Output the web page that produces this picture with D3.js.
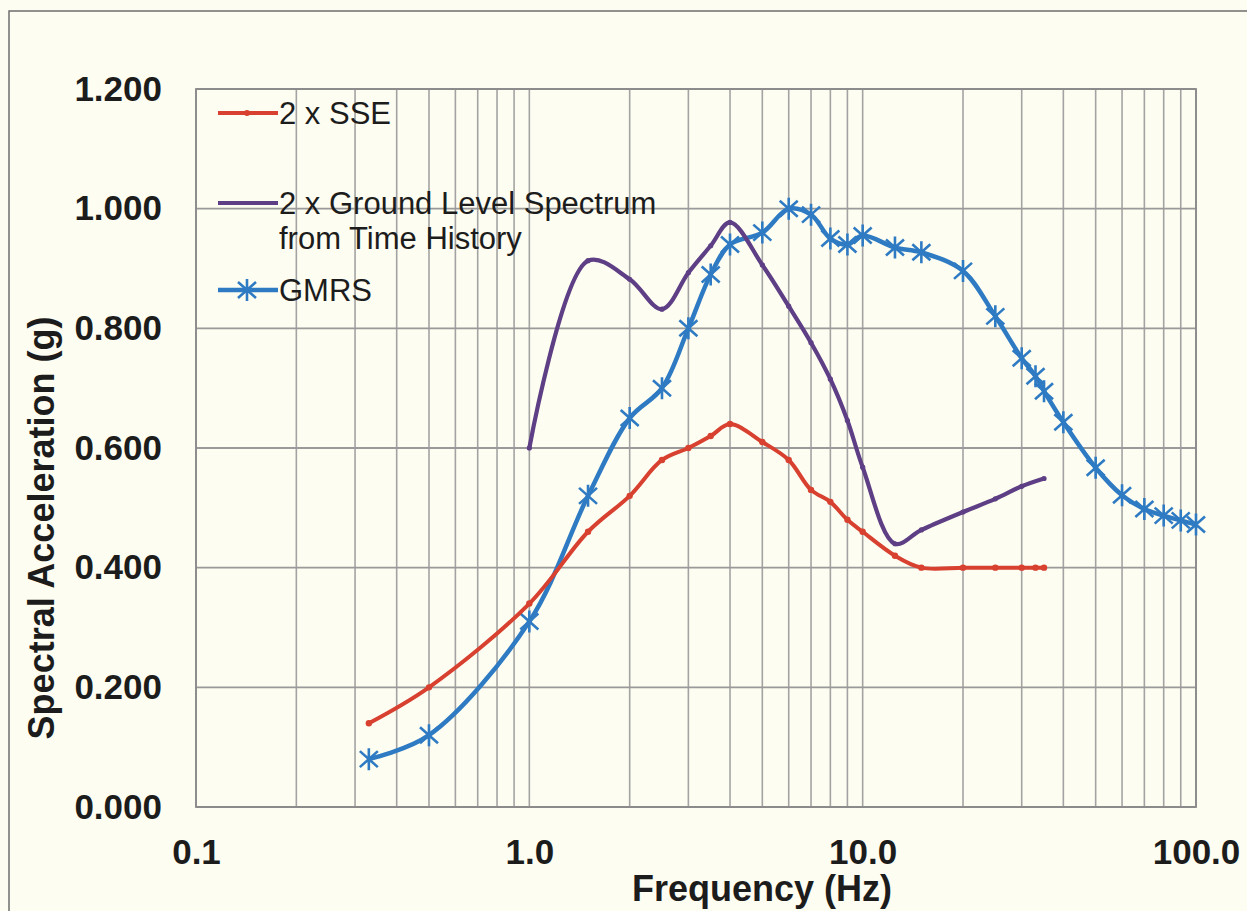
<!DOCTYPE html>
<html>
<head>
<meta charset="utf-8">
<script src="https://cdn.jsdelivr.net/npm/d3@7"></script>
<style>
  html, body { margin: 0; padding: 0; background: #fdfdf1; }
  svg { display: block; }
</style>
</head>
<body>
<svg id="chart" width="1247" height="911"></svg>
<script>
// ---- Data ----
const sseFreq = [0.33, 0.5, 1, 1.5, 2, 2.5, 3, 3.5, 4, 5, 6, 7, 8, 9, 10, 12.5, 15, 20, 25, 30, 33, 35];
const sseVal  = [0.14, 0.20, 0.34, 0.46, 0.52, 0.58, 0.60, 0.62, 0.64, 0.61, 0.58, 0.53, 0.51, 0.48, 0.46, 0.42, 0.40, 0.40, 0.40, 0.40, 0.40, 0.40];

const groundFreq = [1, 1.5, 2, 2.5, 3, 3.5, 4, 5, 6, 7, 8, 9, 10, 12.5, 15, 20, 25, 30, 35];
const groundVal  = [0.60, 0.913, 0.882, 0.832, 0.893, 0.938, 0.977, 0.906, 0.837, 0.776, 0.715, 0.646, 0.568, 0.44, 0.463, 0.493, 0.515, 0.536, 0.549];

const gmrsFreq = [0.33, 0.5, 1, 1.5, 2, 2.5, 3, 3.5, 4, 5, 6, 7, 8, 9, 10, 12.5, 15, 20, 25, 30, 33, 35, 40, 50, 60, 70, 80, 90, 100];
const gmrsVal  = [0.08, 0.12, 0.31, 0.52, 0.65, 0.70, 0.80, 0.89, 0.94, 0.96, 1.00, 0.99, 0.95, 0.94, 0.955, 0.935, 0.927, 0.896, 0.82, 0.75, 0.72, 0.695, 0.643, 0.567, 0.521, 0.498, 0.487, 0.479, 0.472];

const xTickVals = [0.1, 1, 10, 100];
const xTickLabels = ["0.1", "1.0", "10.0", "100.0"];
const yTickVals = [0, 0.2, 0.4, 0.6, 0.8, 1.0, 1.2];
const yTickLabels = ["0.000", "0.200", "0.400", "0.600", "0.800", "1.000", "1.200"];

const seriesNames = ["2 x SSE", "2 x Ground Level Spectrum", "GMRS"];

// ---- Layout ----
const W = 1247, H = 911;
const plot = { left: 196, right: 1196, top: 89, bottom: 807 };
const colors = { sse: "#d8402f", ground: "#5e3f85", gmrs: "#2f7bc3" };
const font = "'Liberation Sans', Arial, Helvetica, sans-serif";

const svg = d3.select("#chart");
svg.append("rect").attr("width", W).attr("height", H).attr("fill", "#fdfdf1");
// outer frame (continues off the right/bottom edges)
svg.append("rect").attr("x", 9).attr("y", 11).attr("width", W + 20).attr("height", H + 20)
  .attr("fill", "none").attr("stroke", "#6e6e6e").attr("stroke-width", 1.5);

const x = d3.scaleLog().domain([0.1, 100]).range([plot.left, plot.right]);
const y = d3.scaleLinear().domain([0, 1.2]).range([plot.bottom, plot.top]);

// grid: vertical minor/major
const vGrid = [];
for (let d = 0.1; d < 100; d *= 10) {
  for (let m = 1; m <= 9; m++) vGrid.push(+(d * m).toPrecision(3));
}
vGrid.push(100);
svg.append("g").selectAll("line").data(vGrid).join("line")
  .attr("x1", d => x(d)).attr("x2", d => x(d))
  .attr("y1", plot.top).attr("y2", plot.bottom)
  .attr("stroke", "#a3a3a3").attr("stroke-width", 1.6);

svg.append("g").selectAll("line").data(yTickVals).join("line")
  .attr("x1", plot.left).attr("x2", plot.right)
  .attr("y1", d => y(d)).attr("y2", d => y(d))
  .attr("stroke", "#9a9a9a").attr("stroke-width", 1.8);

svg.append("rect").attr("x", plot.left).attr("y", plot.top)
  .attr("width", plot.right - plot.left).attr("height", plot.bottom - plot.top)
  .attr("fill", "none").attr("stroke", "#8a8a8a").attr("stroke-width", 1.8);

// axes via d3 axis generators (labels only)
const yAxis = d3.axisLeft(y).tickValues(yTickVals)
  .tickFormat((d, i) => yTickLabels[i]).tickSize(0).tickPadding(34);
const gy = svg.append("g").attr("transform", `translate(${plot.left},0)`).call(yAxis);
gy.select(".domain").remove();
gy.selectAll("text").attr("font-family", font).attr("font-size", 35)
  .attr("font-weight", "bold").attr("fill", "#1c1c1c");

const xAxis = d3.axisBottom(x).tickValues(xTickVals)
  .tickFormat((d, i) => xTickLabels[i]).tickSize(0).tickPadding(32);
const gx = svg.append("g").attr("transform", `translate(0,${plot.bottom})`).call(xAxis);
gx.select(".domain").remove();
gx.selectAll("text").attr("font-family", font).attr("font-size", 35)
  .attr("font-weight", "bold").attr("fill", "#1c1c1c");

// axis titles
svg.append("text").attr("x", 762).attr("y", 901).attr("text-anchor", "middle")
  .attr("font-family", font).attr("font-size", 36).attr("font-weight", "bold")
  .attr("fill", "#1c1c1c").text("Frequency (Hz)");
svg.append("text").attr("transform", "translate(54,528) rotate(-90)")
  .attr("text-anchor", "middle")
  .attr("font-family", font).attr("font-size", 36).attr("font-weight", "bold")
  .attr("fill", "#1c1c1c").text("Spectral Acceleration (g)");

// ---- Series ----
const line = d3.line().x(d => x(d[0])).y(d => y(d[1])).curve(d3.curveCatmullRom.alpha(0.5));
const zip = (a, b) => a.map((v, i) => [v, b[i]]);

const sse = zip(sseFreq, sseVal);
const ground = zip(groundFreq, groundVal);
const gmrs = zip(gmrsFreq, gmrsVal);

const star = "M0,-11V11M-9,-8L9,8M-9,8L9,-8";

// GMRS
svg.append("path").attr("d", line(gmrs)).attr("fill", "none")
  .attr("stroke", colors.gmrs).attr("stroke-width", 4.5).attr("stroke-linejoin", "round");
svg.append("g").selectAll("path").data(gmrs).join("path")
  .attr("transform", d => `translate(${x(d[0])},${y(d[1])})`)
  .attr("d", star).attr("fill", "none").attr("stroke", colors.gmrs).attr("stroke-width", 2.6);

// Ground level
svg.append("path").attr("d", line(ground)).attr("fill", "none")
  .attr("stroke", colors.ground).attr("stroke-width", 4.2).attr("stroke-linejoin", "round");
svg.append("g").selectAll("circle").data(ground).join("circle")
  .attr("cx", d => x(d[0])).attr("cy", d => y(d[1])).attr("r", 2.6).attr("fill", colors.ground);

// SSE
svg.append("path").attr("d", line(sse)).attr("fill", "none")
  .attr("stroke", colors.sse).attr("stroke-width", 4).attr("stroke-linejoin", "round");
svg.append("g").selectAll("circle").data(sse).join("circle")
  .attr("cx", d => x(d[0])).attr("cy", d => y(d[1])).attr("r", 3.2).attr("fill", colors.sse);

// ---- Legend ----
const lg = svg.append("g").attr("font-family", font).attr("font-size", 31).attr("fill", "#1c1c1c");
const legendX1 = 218, legendX2 = 278, legendTx = 279;
// SSE
lg.append("line").attr("x1", legendX1).attr("x2", legendX2).attr("y1", 113).attr("y2", 113)
  .attr("stroke", colors.sse).attr("stroke-width", 4);
lg.append("circle").attr("cx", 247).attr("cy", 113).attr("r", 3).attr("fill", colors.sse);
lg.append("text").attr("x", legendTx).attr("y", 124).text(seriesNames[0]);
// Ground
lg.append("line").attr("x1", legendX1).attr("x2", legendX2).attr("y1", 203).attr("y2", 203)
  .attr("stroke", colors.ground).attr("stroke-width", 4.2);
lg.append("text").attr("x", legendTx).attr("y", 214).text(seriesNames[1]);
lg.append("text").attr("x", legendTx).attr("y", 249).text("from Time History");
// GMRS
lg.append("line").attr("x1", legendX1).attr("x2", legendX2).attr("y1", 290).attr("y2", 290)
  .attr("stroke", colors.gmrs).attr("stroke-width", 4.5);
lg.append("path").attr("transform", "translate(247,290)").attr("d", star)
  .attr("fill", "none").attr("stroke", colors.gmrs).attr("stroke-width", 2.6);
lg.append("text").attr("x", legendTx).attr("y", 301).text(seriesNames[2]);
</script>
</body>
</html>
